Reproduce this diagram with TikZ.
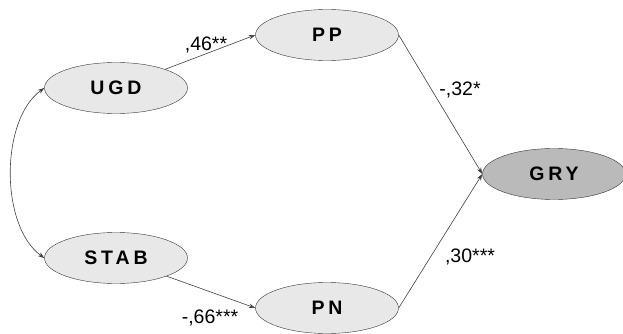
\documentclass[tikz,border=0pt]{standalone}
\usepackage{fontspec}
\setmainfont{Liberation Sans}
\usetikzlibrary{shapes.geometric, arrows.meta}

\tikzset{
  latent/.style={draw=black!80, ellipse, fill=black!9, minimum width=143pt,
    minimum height=51pt, inner sep=0pt,
    font=\fontsize{19.5}{19.5}\selectfont\bfseries\addfontfeatures{LetterSpace=20}},
  outcome/.style={latent, fill=black!27},
  path/.style={draw=black!75, line width=0.6pt, -{Stealth[length=6.5pt, width=4.5pt]}},
  coef/.style={font=\fontsize{19.5}{19.5}\selectfont}
}

\begin{document}
\begin{tikzpicture}[x=1pt, y=-1pt]
  \useasboundingbox (0, 0) rectangle (623, 334);

  \node[latent] (UGD) at (116, 88) {UGD};

  \node[latent] (PP) at (327, 35) {PP};

  \node[latent] (STAB) at (116, 258) {STAB};

  \node[latent] (PN) at (327, 308) {PN};

  \node[outcome] (GRY) at (554, 174) {GRY};

  \draw[path] (UGD) -- (PP.west);
  \draw[path] (STAB) -- (PN.west);
  \draw[path] (PP.east) -- (GRY.west);
  \draw[path] (PN.east) -- (GRY.west);

  %% correlation
  \draw[path, {Stealth[length=6.5pt, width=4.5pt]}-{Stealth[length=6.5pt, width=4.5pt]}]
    (UGD.west) .. controls (0, 120) and (0, 226) .. (STAB.west);

  \node[coef] (c1) at (206, 45) {,46**};
  \node[coef] (c2) at (460, 90) {-,32*};
  \node[coef] (c3) at (210, 318) {-,66***};
  \node[coef] (c4) at (470, 257) {,30***};
\end{tikzpicture}
\end{document}
